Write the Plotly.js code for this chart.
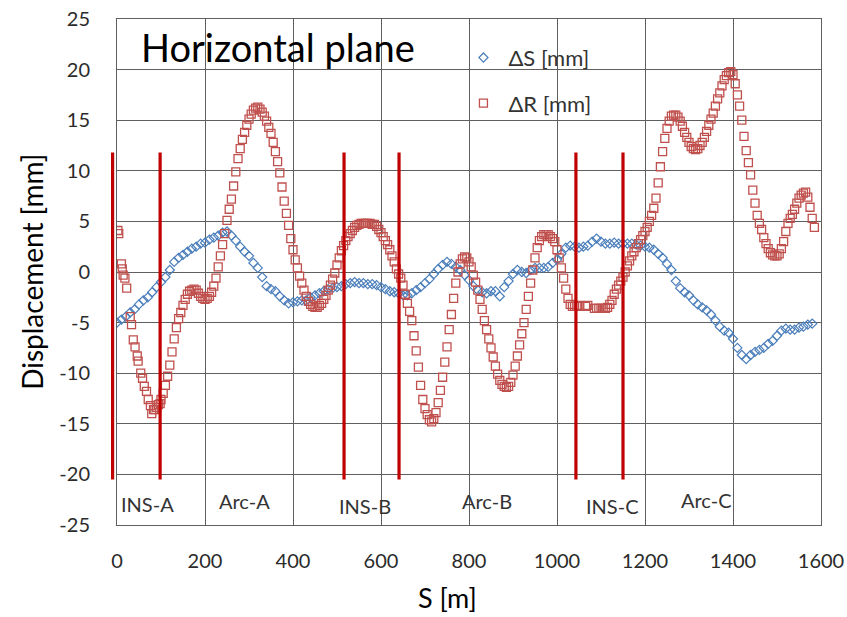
<!DOCTYPE html>
<html>
<head>
<meta charset="utf-8">
<script src="https://cdn.plot.ly/plotly-3.0.1.min.js"></script>
<style>html,body{margin:0;padding:0;background:#fff;}#chart{width:847px;height:617px;}</style>
</head>
<body>
<div id="chart"></div>
<script>
// ΔS [mm] : position S [m] and value
const sPosS = [0,10,20,30,40,50,60,70,80,90,100,110,120,130,140,150,160,170,180,190,200,210,220,230,240,250,260,270,280,290,300,310,320,330,340,350,360,370,380,390,400,410,420,430,440,450,460,470,480,490,500,510,520,530,540,550,560,570,580,590,600,610,620,630,640,650,660,670,680,690,700,710,720,730,740,750,760,770,780,790,800,810,820,830,840,850,860,870,880,890,900,910,920,930,940,950,960,970,980,990,1000,1010,1020,1030,1040,1050,1060,1070,1080,1090,1100,1110,1120,1130,1140,1150,1160,1170,1180,1190,1200,1210,1220,1230,1240,1250,1260,1270,1280,1290,1300,1310,1320,1330,1340,1350,1360,1370,1380,1390,1400,1410,1420,1430,1440,1450,1460,1470,1480,1490,1500,1510,1520,1530,1540,1550,1560,1570,1580];
const dS = [-5.0,-4.7,-4.4,-4.0,-3.7,-3.2,-2.8,-2.5,-2.0,-1.5,-1.0,-0.5,0.2,1.0,1.4,1.7,2.0,2.3,2.5,2.8,2.9,3.2,3.4,3.6,3.9,4.0,3.6,3.1,2.5,2.0,1.6,0.9,0.4,-0.5,-1.4,-1.7,-1.9,-2.4,-2.8,-3.1,-3.0,-2.9,-2.8,-2.8,-2.5,-2.3,-2.1,-1.9,-1.7,-1.6,-1.5,-1.4,-1.2,-1.1,-1.0,-1.1,-1.1,-1.2,-1.2,-1.3,-1.5,-1.7,-1.9,-2.0,-2.1,-2.3,-2.3,-2.1,-1.8,-1.5,-1.1,-0.7,-0.2,0.3,0.7,1.0,0.8,0.5,0.2,-0.3,-0.8,-1.4,-1.8,-2.0,-2.1,-1.9,-1.9,-2.4,-1.5,-0.9,-0.2,0.2,0.0,-0.1,0.2,0.4,0.4,0.4,0.5,0.9,1.2,1.8,2.4,2.6,2.5,2.4,2.5,2.6,3.0,3.3,3.0,2.8,2.8,2.9,2.8,2.8,2.8,2.8,2.7,2.6,2.5,2.4,2.2,1.8,1.4,0.8,0.2,-0.9,-1.6,-2.0,-2.3,-2.8,-3.2,-3.5,-3.8,-4.2,-4.8,-5.4,-5.8,-6.0,-6.6,-7.5,-8.2,-8.6,-8.2,-7.9,-7.7,-7.5,-7.1,-6.8,-6.3,-5.8,-5.6,-5.7,-5.7,-5.5,-5.4,-5.2,-5.1];

// ΔR [mm] : position S [m] and value
const sPosR = [2,4,10,12,14,18,22,30,33,37,41,46,48,54,58,62,67,71,76,79,83,86,90,94,98,
100,105,110,115,120,125,130,135,140,145,150,155,160,165,170,175,180,185,190,195,200,205,210,215,220,225,230,235,240,245,250,255,260,265,270,275,280,285,290,295,300,305,310,315,320,325,330,335,340,345,350,355,360,365,370,375,380,385,390,395,400,405,410,415,420,425,430,435,440,445,450,455,460,465,470,475,480,485,490,495,500,505,510,515,520,525,530,535,540,545,550,555,560,565,570,575,580,585,590,595,600,605,610,615,620,625,630,635,640,645,650,655,660,665,670,675,680,685,690,695,700,705,710,715,720,725,730,735,740,745,750,755,760,765,770,775,780,785,790,795,800,805,810,815,820,825,830,835,840,845,850,855,860,865,870,875,880,885,890,895,900,905,910,915,920,925,930,935,940,945,950,955,960,965,970,975,980,985,990,995,1000,1005,1010,1015,1020,1025,1030,1035,
1040,1045,1050,1065,1070,1085,1090,1095,1100,1105,1110,1115,
1120,1125,1130,1135,1140,1145,1150,1155,1160,1165,1170,1175,1180,1185,1190,1195,1200,1205,1210,1215,1220,1225,1230,1235,1240,1245,1250,1255,1260,1265,1270,1275,1280,1285,1290,1295,1300,1305,1310,1315,1320,1325,1330,1335,1340,1345,1350,1355,1360,1365,1370,1375,1380,1385,1390,1395,1400,1405,1410,1415,1420,1425,1430,1435,1440,1445,1450,1455,1460,1465,1470,1475,1480,1485,1490,1495,1500,1505,1510,1515,1520,1525,1530,1535,1540,1545,1550,1555,1560,1565,1570,1575,1580,1585];
const dR = [4.1,3.8,0.8,0.3,-0.3,-0.6,-1.6,-4.4,-5.2,-6.7,-7.4,-8.3,-8.8,-10.0,-10.5,-11.3,-11.8,-12.6,-13.2,-14.0,-13.6,-13.6,-13.4,-13.1,-13.0,
-12.6,-12.0,-11.2,-10.3,-9.2,-7.9,-6.6,-5.5,-4.6,-4.0,-3.3,-2.7,-2.2,-1.9,-1.8,-1.7,-1.8,-2.1,-2.4,-2.6,-2.7,-2.6,-2.4,-2.0,-1.4,-0.6,0.5,1.6,2.7,3.8,5.1,6.2,7.2,8.5,9.9,11.2,12.2,13.1,13.8,14.5,15.1,15.6,16.0,16.2,16.3,16.1,15.8,15.4,14.9,14.3,13.7,12.8,11.9,10.9,9.8,8.4,7.0,5.8,4.6,3.3,2.2,1.2,0.4,-0.4,-1.1,-1.8,-2.4,-2.9,-3.2,-3.4,-3.5,-3.5,-3.3,-3.1,-2.7,-2.3,-1.8,-1.3,-0.7,-0.1,0.7,1.4,2.1,2.6,3.1,3.5,3.8,4.1,4.4,4.6,4.7,4.8,4.8,4.8,4.8,4.8,4.7,4.7,4.5,4.2,3.9,3.5,3.1,2.7,2.2,1.6,1.0,0.3,-0.2,-0.6,-1.3,-2.2,-3.1,-3.9,-4.8,-6.3,-7.8,-9.4,-11.2,-12.6,-13.5,-14.1,-14.6,-14.8,-14.5,-13.9,-12.9,-11.7,-10.4,-8.9,-7.4,-5.7,-4.2,-2.6,-1.1,0.0,0.8,1.3,1.5,1.4,1.0,0.5,-0.3,-1.0,-1.8,-2.7,-3.7,-4.8,-5.7,-6.6,-7.5,-8.4,-9.3,-10.1,-10.7,-11.1,-11.3,-11.4,-11.3,-10.9,-10.2,-9.3,-8.3,-7.2,-6.1,-5.0,-3.7,-2.4,-1.1,0.2,1.4,2.4,3.1,3.5,3.7,3.7,3.7,3.5,3.3,3.0,2.2,1.4,0.4,-0.6,-1.7,-2.6,-3.2,-3.4,
-3.4,-3.4,-3.3,-3.4,-3.3,-3.6,-3.6,-3.6,-3.6,-3.6,-3.6,-3.5,
-3.2,-2.8,-2.2,-1.7,-1.3,-0.9,-0.5,0.0,0.6,1.1,1.6,2.0,2.4,2.8,3.2,3.6,4.0,4.4,5.0,5.6,6.3,7.3,8.8,10.4,11.9,13.2,14.2,14.9,15.4,15.5,15.5,15.3,14.9,14.4,13.8,13.3,12.8,12.4,12.2,12.1,12.2,12.5,12.8,13.3,13.9,14.5,15.1,15.7,16.4,17.1,17.7,18.4,19.0,19.4,19.7,19.8,19.5,18.6,17.5,16.4,15.0,13.4,12.0,10.8,9.6,8.1,6.8,5.6,4.8,4.2,3.4,2.8,2.3,1.9,1.7,1.6,1.6,1.8,2.3,3.0,4.0,4.8,5.3,5.7,6.2,6.8,7.3,7.6,7.8,7.9,7.4,6.4,5.3,4.4];

// Axis ticks
const xTicks = [0,200,400,600,800,1000,1200,1400,1600];
const yTicks = [-25,-20,-15,-10,-5,0,5,10,15,20,25];
const yTickText = ["-25","-20","-15","-10","-5","0","5","10","15","20","25"];

// Section boundaries (red lines) and section labels
const boundaryS = [-10, 98, 516, 641, 1043, 1150];
const boundaryLow = -20.5, boundaryHigh = 11.8;
const sectionNames = ["INS-A","Arc-A","INS-B","Arc-B","INS-C","Arc-C"];
const sectionS = [70, 290, 564, 841, 1125, 1339];
const sectionV = [-22.9, -22.6, -23.1, -22.6, -23.1, -22.5];

const xRange = [0, 1600], yRange = [-25, 25];
const FONT = "Lato, 'Open Sans', sans-serif";
const gridC = "#5f5f5f";
const tickC = "#2b2b2b";

const traces = [
  {x: sPosS, y: dS, name: "ΔS [mm]", type: "scatter", mode: "markers", legendgroup: "a",
   marker: {symbol: "diamond-open", size: 7, color: "#4a7ebb", line: {width: 1.2, color: "#4a7ebb"}}},
  {x: sPosR, y: dR, name: "ΔR [mm]", type: "scatter", mode: "markers", legendgroup: "b",
   marker: {symbol: "square-open", size: 8, color: "#c0504d", line: {width: 1.3, color: "#c0504d"}}}
];

const shapes = boundaryS.map(s => ({
  type: "line", xref: "paper", yref: "paper", layer: "above",
  x0: (s - xRange[0]) / (xRange[1] - xRange[0]), x1: (s - xRange[0]) / (xRange[1] - xRange[0]),
  y0: (boundaryLow - yRange[0]) / (yRange[1] - yRange[0]), y1: (boundaryHigh - yRange[0]) / (yRange[1] - yRange[0]),
  line: {color: "#c00000", width: 3.2}
}));

const annotations = sectionNames.map((t, i) => ({
  text: t, x: sectionS[i], y: sectionV[i], xref: "x", yref: "y", showarrow: false,
  font: {family: FONT, size: 20, color: "#333"}
}));
annotations.push({
  text: "Horizontal plane", xref: "paper", yref: "paper", x: 0.031, y: 0.945,
  xanchor: "left", yanchor: "middle", showarrow: false,
  font: {family: FONT, size: 38, color: "#000"}
});
annotations.push({
  text: "S [m]", xref: "paper", yref: "paper", x: 0.469, y: -0.143,
  xanchor: "center", yanchor: "middle", showarrow: false,
  font: {family: FONT, size: 27, color: "#000"}
});
annotations.push({
  text: "Displacement [mm]", xref: "paper", yref: "paper", x: -0.121, y: 0.5, textangle: -90,
  xanchor: "center", yanchor: "middle", showarrow: false,
  font: {family: FONT, size: 28, color: "#000"}
});

const layout = {
  width: 847, height: 617,
  margin: {l: 117, r: 26, t: 19, b: 92},
  paper_bgcolor: "#fff", plot_bgcolor: "#fff",
  font: {family: FONT, color: "#333"},
  showlegend: true,
  legend: {x: 0.485, y: 0.965, xanchor: "left", yanchor: "top", bgcolor: "rgba(0,0,0,0)",
           font: {family: FONT, size: 22, color: "#333"}, tracegroupgap: 14, traceorder: "grouped", itemwidth: 40},
  xaxis: {range: xRange, tickvals: xTicks, showgrid: true, gridcolor: gridC, gridwidth: 1,
          zeroline: false, showline: true, mirror: true, linecolor: gridC, linewidth: 1,
          ticks: "", ticklabelstandoff: 18, tickfont: {family: FONT, size: 20, color: tickC}},
  yaxis: {range: yRange, tickvals: yTicks, ticktext: yTickText, showgrid: true, gridcolor: gridC, gridwidth: 1,
          zeroline: false, showline: true, mirror: true, linecolor: gridC, linewidth: 1,
          ticks: "", ticklabelstandoff: 22, tickfont: {family: FONT, size: 20, color: tickC}},
  shapes: shapes,
  annotations: annotations
};

Plotly.newPlot("chart", traces, layout, {displayModeBar: false, staticPlot: true});
</script>
</body>
</html>
